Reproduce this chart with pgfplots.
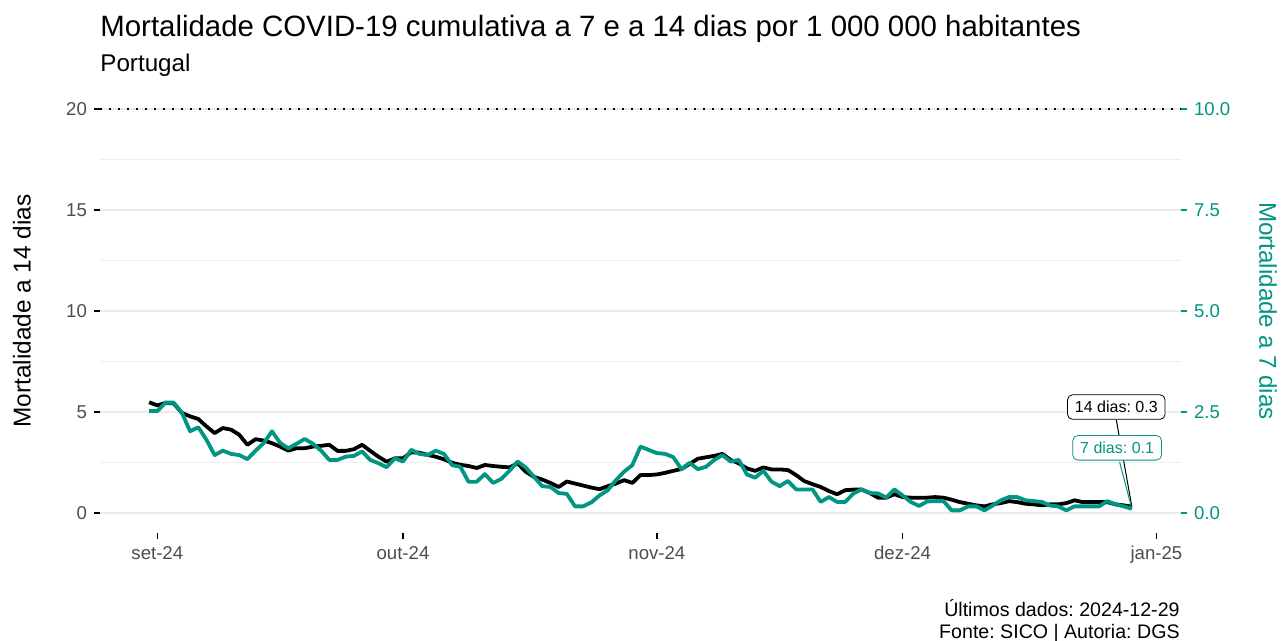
\documentclass[border=0pt]{standalone}
\usepackage{fontspec}
\setmainfont{Liberation Sans}
\usepackage{pgfplots}
\usepackage{pgfplotstable}
\pgfplotsset{compat=1.18}
\frenchspacing

\definecolor{verde}{RGB}{0,150,130}
\definecolor{cinza}{RGB}{77,77,77}
\definecolor{gridmaj}{RGB}{235,235,235}
\definecolor{gridmin}{RGB}{238,238,238}

% dias desde 2024-09-01 ; mortalidade a 14 dias
\pgfplotstableread{
d v
-1 5.48
0 5.32
1 5.45
2 5.42
3 4.95
4 4.78
5 4.65
6 4.28
7 3.95
8 4.20
9 4.12
10 3.87
11 3.37
12 3.65
13 3.58
14 3.45
15 3.28
16 3.08
17 3.20
18 3.20
19 3.28
20 3.32
21 3.37
22 3.07
23 3.07
24 3.15
25 3.37
26 3.07
27 2.78
28 2.53
29 2.70
30 2.70
31 3.00
32 2.98
33 2.87
34 2.78
35 2.65
36 2.48
37 2.38
38 2.32
39 2.22
40 2.37
41 2.32
42 2.28
43 2.25
44 2.45
45 2.03
46 1.78
47 1.65
48 1.48
49 1.28
50 1.55
51 1.45
52 1.35
53 1.25
54 1.17
55 1.32
56 1.45
57 1.62
58 1.48
59 1.87
60 1.87
61 1.90
62 1.98
63 2.08
64 2.17
65 2.42
66 2.68
67 2.75
68 2.82
69 2.92
70 2.62
71 2.45
72 2.20
73 2.08
74 2.25
75 2.15
76 2.15
77 2.12
78 1.87
79 1.57
80 1.42
81 1.28
82 1.08
83 0.92
84 1.12
85 1.15
86 1.15
87 0.98
88 0.75
89 0.75
90 0.92
91 0.78
92 0.75
93 0.75
94 0.75
95 0.78
96 0.75
97 0.65
98 0.53
99 0.45
100 0.37
101 0.32
102 0.42
103 0.48
104 0.58
105 0.53
106 0.45
107 0.42
108 0.37
109 0.42
110 0.42
111 0.48
112 0.62
113 0.53
114 0.53
115 0.53
116 0.53
117 0.42
118 0.37
119 0.30
}\catorze

% mortalidade a 7 dias
\pgfplotstableread{
d v
-1 2.52
0 2.52
1 2.73
2 2.73
3 2.48
4 2.02
5 2.12
6 1.81
7 1.43
8 1.54
9 1.46
10 1.43
11 1.33
12 1.54
13 1.73
14 2.02
15 1.73
16 1.60
17 1.71
18 1.83
19 1.71
20 1.54
21 1.31
22 1.31
23 1.39
24 1.41
25 1.52
26 1.31
27 1.23
28 1.13
29 1.35
30 1.27
31 1.56
32 1.46
33 1.43
34 1.54
35 1.46
36 1.18
37 1.14
38 0.77
39 0.77
40 0.96
41 0.74
42 0.84
43 1.04
44 1.27
45 1.12
46 0.89
47 0.66
48 0.64
49 0.49
50 0.47
51 0.16
52 0.16
53 0.26
54 0.43
55 0.56
56 0.81
57 1.02
58 1.18
59 1.64
60 1.56
61 1.48
62 1.46
63 1.38
64 1.08
65 1.24
66 1.08
67 1.14
68 1.31
69 1.43
70 1.27
71 1.31
72 0.95
73 0.87
74 1.04
75 0.77
76 0.66
77 0.79
78 0.58
79 0.58
80 0.58
81 0.27
82 0.39
83 0.27
84 0.27
85 0.48
86 0.58
87 0.49
88 0.48
89 0.38
90 0.58
91 0.43
92 0.27
93 0.17
94 0.28
95 0.29
96 0.29
97 0.06
98 0.06
99 0.16
100 0.16
101 0.06
102 0.18
103 0.31
104 0.39
105 0.39
106 0.31
107 0.29
108 0.27
109 0.18
110 0.16
111 0.06
112 0.16
113 0.16
114 0.16
115 0.16
116 0.29
117 0.21
118 0.16
119 0.10
}\sete

\pgfplotsset{
  painel/.style={
    scale only axis, width=540.5pt, height=222pt,
    at={(0,0)}, anchor=south west,
    xmin=-7, xmax=125,
    axis line style={draw=none},
    tick align=outside, major tick length=3pt, minor tick length=0pt,
    ticklabel style={font=\fontsize{9.3}{11}\selectfont},
    /pgf/number format/assume math mode=true,
  },
}

\begin{document}
\begin{tikzpicture}
\useasboundingbox (-50pt,-54pt) rectangle (591.5pt,266.5pt);

\begin{axis}[painel,
    ymin=-1, ymax=21,
    xtick={0,30,61,91,122},
    xticklabels={set-24,out-24,nov-24,dez-24,jan-25},
    ytick={0,5,10,15,20},
    minor ytick={2.5,7.5,12.5,17.5},
    ymajorgrids, yminorgrids,
    major grid style={draw=gridmaj, line width=1pt},
    minor grid style={draw=gridmin, line width=0.7pt},
    xtick pos=lower, ytick pos=left,
    tick style={black, line width=0.8pt},
    ticklabel style={text=cinza},
]
\addplot[black, line width=0.7pt, dash pattern=on 1pt off 3.5pt, forget plot]
    coordinates {(-7,20) (125,20)};
\addplot[black, line width=1.9pt, line join=round] table[x=d, y=v] {\catorze};
\end{axis}

\begin{axis}[painel,
    ymin=-0.5, ymax=10.5,
    xtick=\empty,
    ytick={0,2.5,5,7.5,10},
    ytick pos=right, yticklabel pos=right,
    tick style={verde, line width=0.8pt},
    ticklabel style={text=verde},
    yticklabel style={/pgf/number format/.cd, fixed, fixed zerofill, precision=1},
]
\addplot[verde, line width=1.9pt, line join=round] table[x=d, y=v] {\sete};

% etiquetas do ultimo valor
\draw[black, line width=0.5pt] (axis cs:117.1,2.3) -- (axis cs:119,0.15);
\node[draw=black, fill=white, rounded corners=2.5pt, inner xsep=3.7pt, inner ysep=3.2pt,
      font=\fontsize{8}{9.6}\selectfont] at (axis cs:117.1,2.62) {14 dias: 0.3};
\draw[verde, line width=0.5pt] (axis cs:117.5,1.26) -- (axis cs:119,0.1);
\node[draw=verde, fill=white, rounded corners=2.5pt, inner xsep=3.7pt, inner ysep=3.2pt,
      text=verde, font=\fontsize{8}{9.6}\selectfont] at (axis cs:117.2,1.61) {7 dias: 0.1};
\end{axis}

% titulos
\node[anchor=base west, inner sep=0pt, font=\fontsize{14.7}{17}\selectfont]
    at (0pt,248pt) {Mortalidade COVID-19 cumulativa a 7 e a 14 dias por 1 000 000 habitantes};
\node[anchor=base west, inner sep=0pt, font=\fontsize{12.1}{14}\selectfont]
    at (0pt,230.5pt) {Portugal};
\node[rotate=90, font=\fontsize{12.2}{14}\selectfont] at (-39pt,111pt) {Mortalidade a 14 dias};
\node[rotate=-90, text=verde, font=\fontsize{12.1}{14}\selectfont] at (584pt,111pt) {Mortalidade a 7 dias};
\node[anchor=base east, inner sep=0pt, font=\fontsize{9.8}{11}\selectfont]
    at (540pt,-42pt) {Últimos dados: 2024-12-29};
\node[anchor=base east, inner sep=0pt, font=\fontsize{9.8}{11}\selectfont]
    at (540pt,-53pt) {Fonte: SICO | Autoria: DGS};
\end{tikzpicture}
\end{document}
